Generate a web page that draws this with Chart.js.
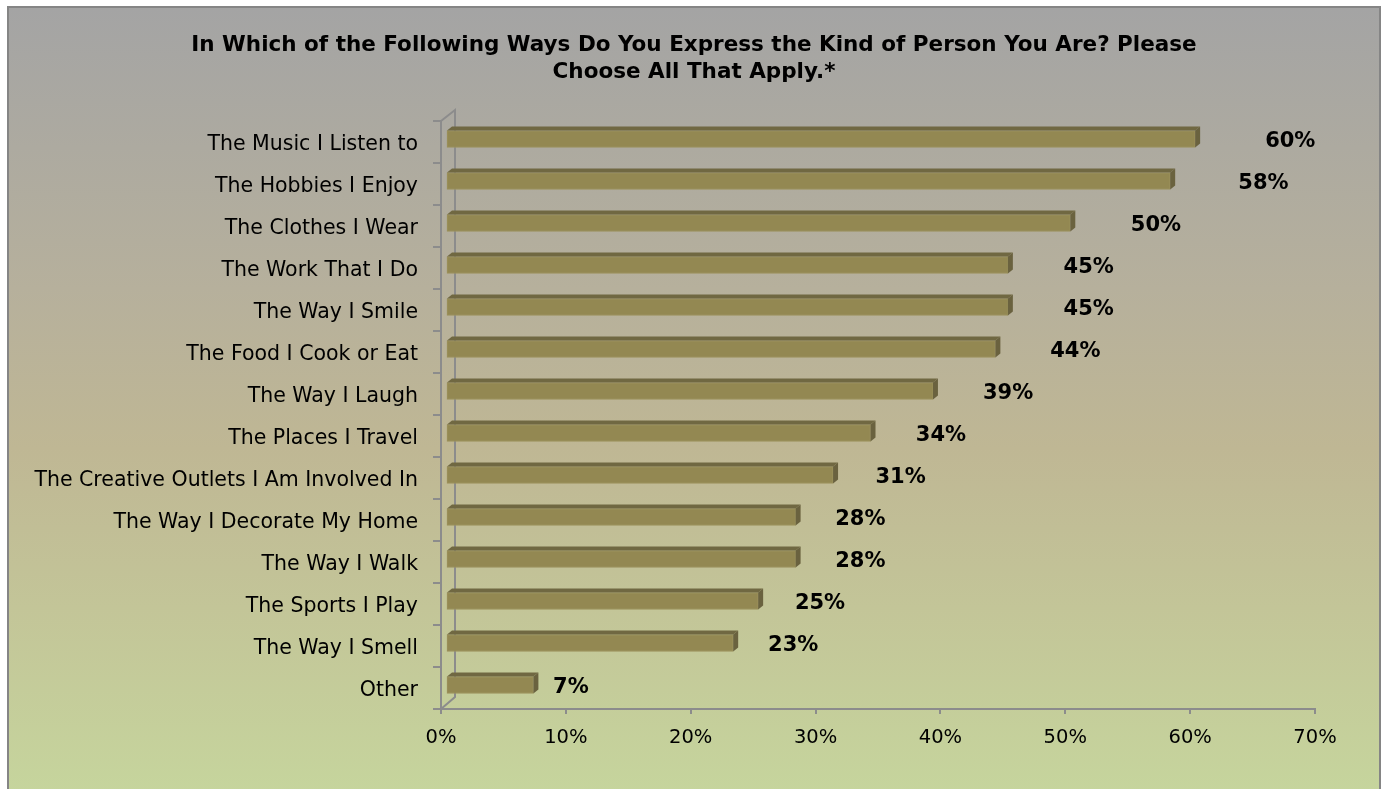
<!DOCTYPE html>
<html>
<head>
<meta charset="utf-8">
<title>Ways of expressing yourself</title>
<script src="https://cdn.jsdelivr.net/npm/chart.js@4.4.1/dist/chart.umd.min.js"></script>
<style>
  html, body { margin: 0; padding: 0; background: #fff; }
  #frame {
    position: absolute; left: 7px; top: 6px;
    width: 1370px; height: 800px;
    border: 2px solid #858585; border-bottom: none;
    background: linear-gradient(to bottom, #a4a4a4 0%, #b6b09c 35%, #bfb794 55%, #c3c598 75%, #c6d69d 100%);
  }
  #chart { position: absolute; left: 0; top: 0; }
</style>
</head>
<body>
<div id="frame"></div>
<canvas id="chart" width="1385" height="789"></canvas>
<script>
const titleLines = [
  'In Which of the Following Ways Do You Express the Kind of Person You Are? Please',
  'Choose All That Apply.*'
];

const categories = [
  'The Music I Listen to',
  'The Hobbies I Enjoy',
  'The Clothes I Wear',
  'The Work That I Do',
  'The Way I Smile',
  'The Food I Cook or Eat',
  'The Way I Laugh',
  'The Places I Travel',
  'The Creative Outlets I Am Involved In',
  'The Way I Decorate My Home',
  'The Way I Walk',
  'The Sports I Play',
  'The Way I Smell',
  'Other'
];

const percentages = [60, 58, 50, 45, 45, 44, 39, 34, 31, 28, 28, 25, 23, 7];

const axisMin = 0;
const axisMax = 70;
const axisStep = 10;

const FONT = '"DejaVu Sans", sans-serif';
const AXIS_GREY = '#8c8c8c';

// bars sit a little behind the front axis plane
const SHIFT_X = 5, SHIFT_Y = -3;
// depth of the top / side faces
const DEPTH_X = 5, DEPTH_Y = 4;

// two-line heading, centred on the frame rather than the plot
const heading = {
  id: 'heading',
  afterDraw(chart) {
    const ctx = chart.ctx;
    ctx.save();
    ctx.font = 'bold 21.5px ' + FONT;
    ctx.fillStyle = '#000';
    ctx.textAlign = 'center';
    ctx.textBaseline = 'middle';
    titleLines.forEach((line, i) => ctx.fillText(line, 694, 45 + i * 27.5));
    ctx.restore();
  }
};

const bar3d = {
  id: 'bar3d',
  beforeDatasetsDraw(chart) {
    const { ctx, chartArea: a } = chart;
    // back wall edge and the two connectors to the front axis
    ctx.save();
    ctx.strokeStyle = AXIS_GREY;
    ctx.lineWidth = 2;
    ctx.beginPath();
    ctx.moveTo(a.left, a.top);
    ctx.lineTo(a.left + 14, a.top - 11);
    ctx.lineTo(a.left + 14, a.bottom - 12);
    ctx.lineTo(a.left, a.bottom);
    ctx.stroke();
    ctx.restore();

    ctx.save();
    ctx.translate(SHIFT_X, SHIFT_Y);
  },
  afterDatasetsDraw(chart) {
    const ctx = chart.ctx;
    const meta = chart.getDatasetMeta(0);
    meta.data.forEach(bar => {
      const { x, y, base, height } = bar.getProps(['x', 'y', 'base', 'height'], true);
      const top = y - height / 2;
      const bottom = y + height / 2;

      ctx.fillStyle = '#706842';
      ctx.beginPath();
      ctx.moveTo(base, top);
      ctx.lineTo(base + DEPTH_X, top - DEPTH_Y);
      ctx.lineTo(x + DEPTH_X, top - DEPTH_Y);
      ctx.lineTo(x, top);
      ctx.closePath();
      ctx.fill();

      ctx.fillStyle = '#6a623f';
      ctx.beginPath();
      ctx.moveTo(x, top);
      ctx.lineTo(x + DEPTH_X, top - DEPTH_Y);
      ctx.lineTo(x + DEPTH_X, bottom - DEPTH_Y);
      ctx.lineTo(x, bottom);
      ctx.closePath();
      ctx.fill();
    });
    ctx.restore();

    // value labels
    ctx.save();
    ctx.font = 'bold 21px ' + FONT;
    ctx.fillStyle = '#000';
    ctx.textAlign = 'left';
    ctx.textBaseline = 'middle';
    meta.data.forEach((bar, i) => {
      const v = percentages[i];
      const gap = 8 + 0.95 * v;
      ctx.fillText(v + '%', bar.x + SHIFT_X + DEPTH_X + gap, bar.y);
    });
    ctx.restore();
  }
};

new Chart(document.getElementById('chart'), {
  type: 'bar',
  data: {
    labels: categories,
    datasets: [{
      data: percentages,
      backgroundColor: '#938852',
      borderColor: '#9c925c',
      borderWidth: 1,
      borderSkipped: false,
      barThickness: 17
    }]
  },
  options: {
    indexAxis: 'y',
    responsive: false,
    animation: false,
    layout: { padding: { left: 0, right: 70, top: 121, bottom: 0 } },
    plugins: {
      legend: { display: false },
      tooltip: { enabled: false },
      title: { display: false }
    },
    scales: {
      x: {
        min: axisMin,
        max: axisMax,
        afterFit: scale => { scale.height = 80; },
        border: { display: true, color: AXIS_GREY, width: 2 },
        grid: { drawOnChartArea: false, color: AXIS_GREY, lineWidth: 2, tickLength: 5 },
        ticks: {
          stepSize: axisStep,
          color: '#000',
          padding: 12,
          font: { family: FONT, size: 19.5 },
          callback: v => v + '%'
        }
      },
      y: {
        afterFit: scale => { scale.width = 441; },
        border: { display: true, color: AXIS_GREY, width: 2 },
        grid: { drawOnChartArea: false, color: AXIS_GREY, lineWidth: 2, tickLength: 8 },
        ticks: {
          color: '#000',
          padding: 15,
          labelOffset: 3,
          font: { family: FONT, size: 20.5 }
        }
      }
    }
  },
  plugins: [bar3d, heading]
});
</script>
</body>
</html>
